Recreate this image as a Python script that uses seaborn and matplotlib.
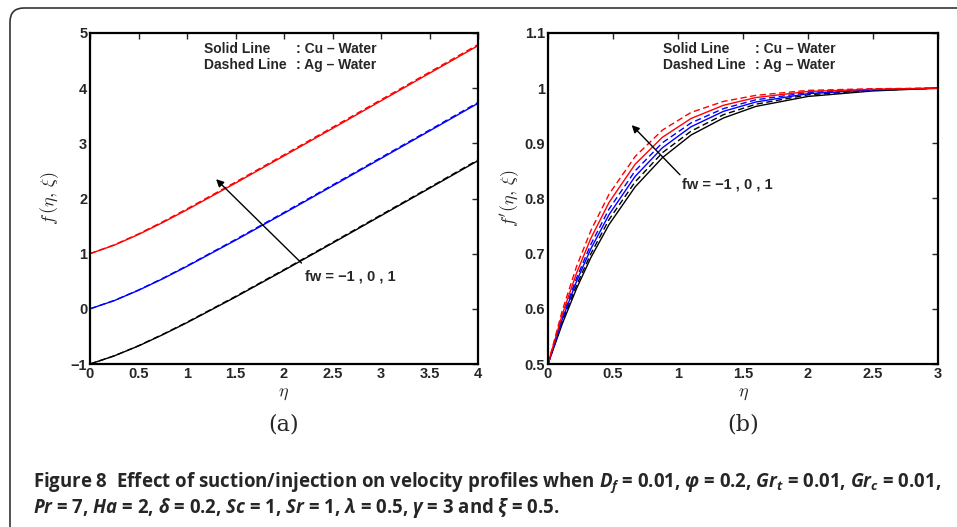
import pandas as pd
import matplotlib
matplotlib.use("Agg")
import matplotlib.pyplot as plt
import matplotlib.patches as mpatches
from matplotlib.transforms import IdentityTransform
import seaborn as sns

# ---- data ----
# (a) f(eta, xi)
eta_a = [0, 0.25, 0.5, 0.75, 1.0, 1.5, 2.0, 2.5, 3.0, 3.5, 4.0]
f_cu_m1 = [-1.0, -0.853, -0.673, -0.469, -0.251, 0.214, 0.698, 1.191, 1.688, 2.186, 2.686]
f_ag_m1 = [-1.0, -0.852, -0.669, -0.462, -0.242, 0.225, 0.710, 1.204, 1.702, 2.200, 2.700]
f_cu_0 = [0.0, 0.149, 0.336, 0.545, 0.770, 1.243, 1.732, 2.228, 2.726, 3.225, 3.725]
f_ag_0 = [0.0, 0.151, 0.341, 0.553, 0.780, 1.256, 1.747, 2.244, 2.742, 3.241, 3.741]
f_cu_p1 = [1.0, 1.154, 1.348, 1.565, 1.796, 2.279, 2.773, 3.270, 3.770, 4.270, 4.770]
f_ag_p1 = [1.0, 1.160, 1.358, 1.579, 1.812, 2.297, 2.792, 3.290, 3.790, 4.290, 4.790]

# (b) f'(eta, xi)
eta_b = [0, 0.11, 0.22, 0.33, 0.47, 0.67, 0.88, 1.1, 1.35, 1.6, 2.0, 2.5, 3.0]
fp_cu_m1 = [0.5, 0.573, 0.637, 0.693, 0.753, 0.821, 0.874, 0.915, 0.946, 0.967, 0.985, 0.995, 1.0]
fp_ag_m1 = [0.5, 0.577, 0.643, 0.700, 0.762, 0.830, 0.883, 0.922, 0.952, 0.971, 0.988, 0.996, 1.0]
fp_cu_0 = [0.5, 0.581, 0.650, 0.709, 0.771, 0.840, 0.892, 0.930, 0.958, 0.975, 0.990, 0.997, 1.0]
fp_ag_0 = [0.5, 0.585, 0.656, 0.717, 0.781, 0.850, 0.901, 0.937, 0.963, 0.979, 0.992, 0.998, 1.0]
fp_cu_p1 = [0.5, 0.590, 0.665, 0.728, 0.793, 0.862, 0.911, 0.945, 0.969, 0.983, 0.994, 0.998, 1.0]
fp_ag_p1 = [0.5, 0.597, 0.677, 0.742, 0.808, 0.876, 0.924, 0.956, 0.976, 0.987, 0.996, 0.999, 1.0]

fw_values = [-1, 0, 1]
fw_colors = {-1: "black", 0: "blue", 1: "red"}


def long_table(eta, curves):
    rows = []
    for (fw, fluid), vals in curves.items():
        for e, v in zip(eta, vals):
            rows.append({"eta": e, "val": v, "fw": fw, "fluid": fluid})
    return pd.DataFrame(rows)


df_a = long_table(eta_a, {(-1, "Cu"): f_cu_m1, (-1, "Ag"): f_ag_m1,
                          (0, "Cu"): f_cu_0, (0, "Ag"): f_ag_0,
                          (1, "Cu"): f_cu_p1, (1, "Ag"): f_ag_p1})
df_b = long_table(eta_b, {(-1, "Cu"): fp_cu_m1, (-1, "Ag"): fp_ag_m1,
                          (0, "Cu"): fp_cu_0, (0, "Ag"): fp_ag_0,
                          (1, "Cu"): fp_cu_p1, (1, "Ag"): fp_ag_p1})

sns.set_style("white")
plt.rcParams["font.family"] = ["Liberation Sans", "DejaVu Sans"]
plt.rcParams["font.weight"] = "bold"
plt.rcParams["mathtext.fontset"] = "custom"
plt.rcParams["mathtext.rm"] = "Open Sans:bold"
plt.rcParams["mathtext.it"] = "Open Sans:italic:bold"
plt.rcParams["mathtext.bf"] = "Open Sans:bold"

fig = plt.figure(figsize=(9.57, 5.27), dpi=100)
ax1 = fig.add_axes([90 / 957, 163 / 527, 388 / 957, 331 / 527])
ax2 = fig.add_axes([548 / 957, 163 / 527, 390 / 957, 331 / 527])

dash_map = {"Cu": "", "Ag": (4.5, 2.5)}
for ax, df in [(ax1, df_a), (ax2, df_b)]:
    sns.lineplot(data=df, x="eta", y="val", hue="fw", style="fluid",
                 palette=fw_colors, dashes=dash_map, hue_order=fw_values,
                 style_order=["Cu", "Ag"], estimator=None, sort=False,
                 lw=1.0, legend=False, ax=ax)

ax1.set_xlim(0, 4)
ax1.set_ylim(-1, 5)
ax1.set_xticks([0, 0.5, 1, 1.5, 2, 2.5, 3, 3.5, 4])
ax1.set_yticks([-1, 0, 1, 2, 3, 4, 5])
ax2.set_xlim(0, 3)
ax2.set_ylim(0.5, 1.1)
ax2.set_xticks([0, 0.5, 1, 1.5, 2, 2.5, 3])
ax2.set_yticks([0.5, 0.6, 0.7, 0.8, 0.9, 1.0, 1.1])

for ax in (ax1, ax2):
    ax.xaxis.set_major_formatter(matplotlib.ticker.FormatStrFormatter("%g"))
    ax.yaxis.set_major_formatter(matplotlib.ticker.FuncFormatter(
        lambda v, p: ("%g" % v).replace("-", "\u2212")))
    ax.tick_params(direction="in", top=True, right=True, length=4, width=1.0,
                   labelsize=10.5, pad=2)
    for lab in ax.get_xticklabels() + ax.get_yticklabels():
        lab.set_fontweight("bold")
    for s in ax.spines.values():
        s.set_linewidth(1.6)
        s.set_color("black")
    ax.set_xlabel(r"$\eta$", fontsize=13, math_fontfamily="cm", labelpad=3)
    ax.text(0.294, 0.952, "Solid Line", transform=ax.transAxes,
            fontsize=10, fontweight="bold", va="center")
    ax.text(0.531, 0.952, ": Cu \u2013 Water", transform=ax.transAxes,
            fontsize=10, fontweight="bold", va="center")
    ax.text(0.294, 0.903, "Dashed Line", transform=ax.transAxes,
            fontsize=10, fontweight="bold", va="center")
    ax.text(0.531, 0.903, ": Ag \u2013 Water", transform=ax.transAxes,
            fontsize=10, fontweight="bold", va="center")

ax1.set_ylabel(r"$f\,(\eta,\,\xi)$", fontsize=13, math_fontfamily="cm", labelpad=7)
ax2.set_ylabel(r"$f'(\eta,\,\xi)$", fontsize=13, math_fontfamily="cm", labelpad=2)

arrow = dict(arrowstyle="-|>", color="black", lw=1.0, mutation_scale=11,
             shrinkA=0, shrinkB=0)
ax1.annotate("", xy=(1.30, 2.35), xytext=(2.18, 0.83), arrowprops=arrow)
ax1.text(2.22, 0.595, "fw = \u22121 , 0 , 1", fontsize=10.5, fontweight="bold",
         va="center")
ax2.annotate("", xy=(0.644, 0.933), xytext=(1.015, 0.843), arrowprops=arrow)
ax2.text(1.03, 0.826, "fw = \u22121 , 0 , 1", fontsize=10.5, fontweight="bold",
         va="center")

fig.text(284 / 957, 102 / 527, "(a)", fontsize=16, family="DejaVu Serif",
         fontweight="normal", ha="center", va="center")
fig.text(743 / 957, 102 / 527, "(b)", fontsize=16, family="DejaVu Serif",
         fontweight="normal", ha="center", va="center")

cap = dict(fontsize=13.4, family="Open Sans", fontweight="bold", ha="left",
           va="baseline")
fig.text(33 / 957, 40 / 527,
         r"Figure 8  Effect of suction/injection on velocity profiles when "
         r"$D_f$ = 0.01, $\varphi$ = 0.2, $Gr_t$ = 0.01, $Gr_c$ = 0.01,", **cap)
fig.text(33 / 957, 14 / 527,
         r"$Pr$ = 7, $Ha$ = 2, $\delta$ = 0.2, $Sc$ = 1, $Sr$ = 1, "
         r"$\lambda$ = 0.5, $\gamma$ = 3 and $\xi$ = 0.5.", **cap)

frame = mpatches.FancyBboxPatch((10, -40), 1000, 559,
                                boxstyle="round,pad=0,rounding_size=14",
                                transform=IdentityTransform(), fill=False,
                                edgecolor="#333333", lw=1.2)
fig.add_artist(frame)

fig.savefig("out.png", dpi=100)
